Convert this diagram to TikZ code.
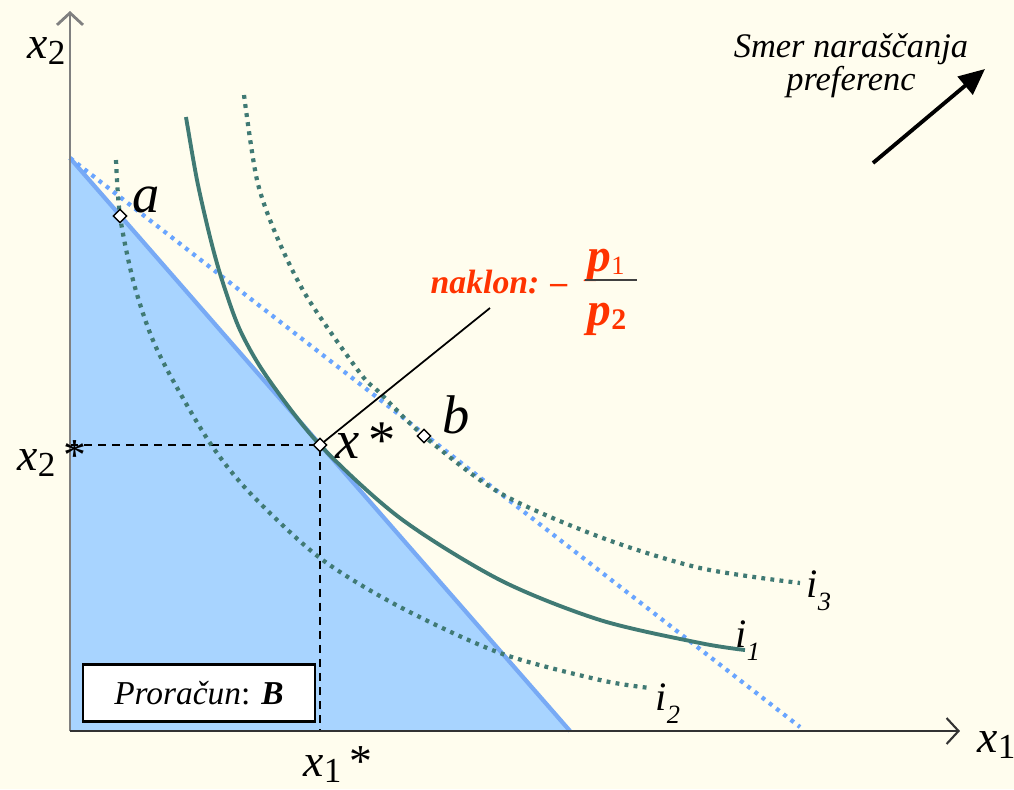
\documentclass[tikz,border=0pt]{standalone}
\usepackage{fontspec}
\setmainfont{Liberation Serif}
\usepackage{xcolor}
\usetikzlibrary{calc}
\usetikzlibrary{shapes.geometric,positioning}
\usetikzlibrary{arrows.meta}
\definecolor{bg}{RGB}{255,253,238}
\definecolor{budget}{RGB}{168,212,255}
\definecolor{bline}{RGB}{120,170,245}
\definecolor{bdot}{RGB}{105,165,255}
\definecolor{icurve}{RGB}{64,122,116}
\definecolor{nred}{RGB}{255,51,0}

\begin{document}
\begin{tikzpicture}[x=0.1mm,y=-0.1mm,
    tocka/.style={diamond,draw,fill=white,inner sep=0pt,minimum size=1.4mm,line width=0.4pt},
    pikice/.style={line width=1.2pt,dash pattern=on 1.1pt off 1.5pt},
    oznaka/.style={inner sep=0pt,anchor=base west},
    velika/.style={oznaka,font=\fontsize{15.5}{16}\selectfont\itshape},
    osna/.style={oznaka,font=\fontsize{13}{14}\selectfont},
    krivulja/.style={oznaka,font=\fontsize{11.5}{12}\selectfont\itshape}]
   \useasboundingbox[fill=bg] (0,0) rectangle (1014,789);
   \path
    (70,731) coordinate (o)
    (70,11) coordinate (y0)
    (960,731) coordinate (x0)
    (70,158) coordinate (b1)
    (570,731) coordinate (b2)
    (800,727) coordinate (b3)
    (120,216) coordinate (a)
    (424,436) coordinate (b)
    (320,445) coordinate (xs)
    (70,445) coordinate (xs2)
    (320,731) coordinate (xs1)
    (490,308) coordinate (k1)
    (585,280) coordinate (u1)
    (637,280) coordinate (u2)
    (873,163) coordinate (s1)
    (985,69) coordinate (s2)
    ;

    % budget set
    \fill[budget] (b1) -- (o) -- (b2) -- cycle;
    \draw[line width=1.2pt,bline] (b1) -- (b2);

    % dashed lines to the axes
    \draw[line width=0.4pt,dash pattern=on 2.3pt off 1.7pt] (xs2) -- (xs) -- (xs1);

    % rotated budget line
    \draw[pikice,bdot] (b1) -- (b3);

    % indifference curves i_1, i_2, i_3
    \draw[line width=1.1pt,icurve] plot[smooth] coordinates
      {(186,117) (197,180) (210,237) (222,280) (240,330) (267,377) (320,445)
       (400,518) (500,580) (600,620) (700,643) (745,650)};
    \draw[pikice,icurve] plot[smooth] coordinates
      {(116,160) (120,216) (133,280) (150,333) (170,375) (210,443) (250,493)
       (320,558) (400,607) (500,653) (600,680) (650,688)};
    \draw[pikice,icurve] plot[smooth] coordinates
      {(244,95) (257,180) (277,237) (307,297) (360,373) (380,393) (424,436)
       (500,493) (600,537) (700,568) (800,583)};

    % axes
    \draw[line width=0.8pt,gray,-{Straight Barb[length=1.2mm,width=2.6mm]}] (o) -- (y0);
    \draw[line width=0.6pt,black!80,-{Straight Barb[length=1.2mm,width=2.6mm]}] (o) -- (x0);

    % slope
    \draw[line width=0.5pt] (xs) -- (k1);
    \node[oznaka,text=nred,font=\fontsize{9.6}{10}\selectfont\bfseries\itshape] (nk) at (430,293) {naklon: –};
    \node[oznaka,text=nred,font=\fontsize{13.5}{14}\selectfont\bfseries] (p1) at (587,271) {\textit{p}\raisebox{-1.1pt}{\mdseries\fontsize{7.5}{8}\selectfont 1}};
    \node[oznaka,text=nred,font=\fontsize{13.5}{14}\selectfont\bfseries] (p2) at (587,325) {\textit{p}\raisebox{-1.4pt}{\fontsize{8.5}{9}\selectfont 2}};
    \draw[line width=0.8pt,gray!50!black] (u1) -- (u2);

    % points a, b, x*
    \node[tocka] (na) at (a) {};
    \node[tocka] (nb) at (b) {};
    \node[tocka] (nx) at (xs) {};
    \node[velika] (la) at (132,212) {a};
    \node[velika] (lb) at (442,433) {b};
    \node[velika] (lx) at (335,458) {x\,\upshape*};

    % axis labels
    \node[osna] (lx2) at (27,58) {\textit{x}\raisebox{-0.3ex}{\fontsize{10}{10}\selectfont 2}};
    \node[osna] (lx1) at (977,752) {\textit{x}\raisebox{-0.3ex}{\fontsize{10}{10}\selectfont 1}};
    \node[osna] (lx2s) at (17,470) {\textit{x}\raisebox{-0.3ex}{\fontsize{10}{10}\selectfont 2}\,*};
    \node[osna] (lx1s) at (303,776) {\textit{x}\raisebox{-0.3ex}{\fontsize{10}{10}\selectfont 1}\,*};

    % curve labels
    \node[krivulja] (li1) at (735,647) {i\raisebox{-3.8pt}{\fontsize{7.5}{8}\selectfont 1}};
    \node[krivulja] (li2) at (655,710) {i\raisebox{-3.8pt}{\fontsize{7.5}{8}\selectfont 2}};
    \node[krivulja] (li3) at (806,597) {i\raisebox{-3.8pt}{\fontsize{7.5}{8}\selectfont 3}};

    % budget box
    \node[draw,fill=white,line width=0.8pt,minimum width=2.32cm,minimum height=0.57cm,
      font=\fontsize{9.5}{10}\selectfont] (pr) at (199,693) {\textit{Proračun}: \textbf{\textit{B}}};

    % direction of preferences
    \node[align=center,font=\fontsize{9.8}{9.4}\selectfont\itshape] (sm) at (851,66) {Smer naraščanja\\preferenc};
    \draw[line width=1.1pt,-{Triangle[length=2.6mm,width=2.3mm]}] (s1) -- (s2);

\end{tikzpicture}
\end{document}
